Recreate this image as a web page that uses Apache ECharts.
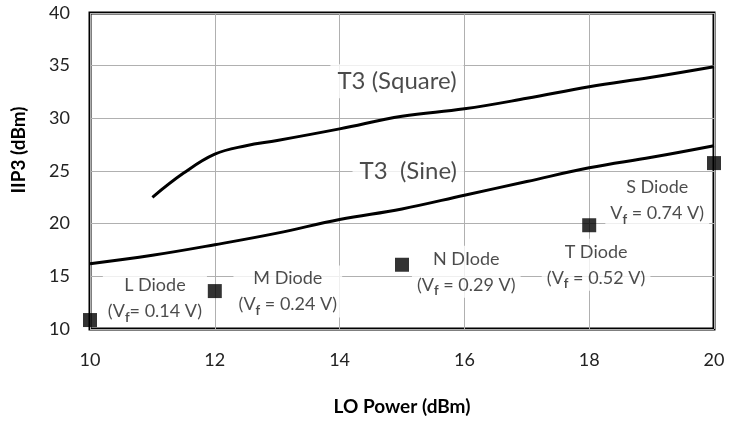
<!DOCTYPE html>
<html>
<head>
<meta charset="utf-8">
<script src="https://cdn.jsdelivr.net/npm/echarts@6/dist/echarts.min.js"></script>
<style>
  html, body { margin: 0; padding: 0; background: #fff; }
  #chart { width: 729px; height: 421px; }
</style>
</head>
<body>
<div id="chart"></div>
<script>
// T3 curves (LO power dBm, IIP3 dBm)
const squareLine = [[11, 22.5], [11.5, 24.8], [12, 26.6], [12.5, 27.4], [13, 27.9], [14, 29.0],
  [15, 30.2], [16, 30.9], [17, 31.9], [18, 33.0], [19, 33.9], [20, 34.9]];
const sineLine = [[10, 16.2], [11, 17.0], [12, 18.0], [13, 19.1], [14, 20.4], [15, 21.4],
  [16, 22.7], [17, 24.0], [18, 25.3], [19, 26.3], [20, 27.4]];
// measured diodes
const diodePoints = [[10, 10.85], [12, 13.6], [15, 16.1], [18, 19.85], [20, 25.75]];
// annotation text, anchored in data units
const curveNotes = [
  { pos: [14.92, 33.53], text: 'T3 (Square)' },
  { pos: [15.10, 25.0], text: 'T3  (Sine)' }
];
const diodeNotes = [
  { pos: [11.04, 12.92], text: 'L Diode\n(V{s|f}= 0.14 V)' },
  { pos: [13.17, 13.57], text: 'M Diode\n(V{s|f} = 0.24 V)' },
  { pos: [16.03, 15.44], text: 'N DIode\n(V{s|f} = 0.29 V)' },
  { pos: [18.11, 16.10], text: 'T Diode\n(V{s|f} = 0.52 V)' },
  { pos: [19.09, 22.19], text: 'S Diode\nV{s|f} = 0.74 V)' }
];

const font = 'Lato, "Noto Sans", sans-serif';
const chart = echarts.init(document.getElementById('chart'));

function noteSeries(notes, size, lh, pad) {
  return {
    type: 'scatter', data: notes.map(n => ({ value: n.pos, label: { formatter: n.text } })),
    symbolSize: 0, silent: true, z: 2,
    label: {
      show: true, position: 'inside', color: '#1e1e1e', fontSize: size, fontFamily: font,
      lineHeight: lh, align: 'center', verticalAlign: 'middle',
      backgroundColor: '#fff', padding: pad,
      rich: {
        s: { fontSize: 13, fontWeight: 'bold', fontFamily: font, color: '#1e1e1e', verticalAlign: 'bottom', lineHeight: lh, padding: [9, 0, 0, 0] }
      }
    }
  };
}

chart.setOption({
  backgroundColor: '#fff',
  animation: false,
  grid: {
    left: 90, right: 15, top: 13, bottom: 88,
    show: true, borderColor: '#000', borderWidth: 3
  },
  xAxis: {
    type: 'value', min: 10, max: 20, interval: 2,
    axisLine: { show: false }, axisTick: { show: false },
    splitLine: { lineStyle: { color: '#b0b0b0', width: 1 } },
    axisLabel: { color: '#222', fontSize: 18, fontFamily: font, margin: 22 },
    name: 'LO Power (dBm)', nameLocation: 'middle', nameGap: 68,
    nameTextStyle: { color: '#000', fontSize: 19, fontWeight: 'bold', fontFamily: font }
  },
  yAxis: {
    type: 'value', min: 10, max: 40, interval: 5,
    axisLine: { show: false }, axisTick: { show: false },
    splitLine: { lineStyle: { color: '#b0b0b0', width: 1 } },
    axisLabel: { color: '#222', fontSize: 18, fontFamily: font, margin: 20 }
  },
  graphic: [{
    type: 'text', x: 19, y: 150, rotation: Math.PI / 2,
    style: {
      text: 'IIP3 (dBm)', fill: '#000', fontSize: 19, fontWeight: 'bold',
      fontFamily: font, align: 'center', verticalAlign: 'middle'
    }
  }],
  series: [
    {
      type: 'line', data: squareLine, smooth: 0.4, showSymbol: false,
      lineStyle: { color: '#000', width: 3 }, z: 3
    },
    {
      type: 'line', data: sineLine, smooth: 0.4, showSymbol: false,
      lineStyle: { color: '#000', width: 3 }, z: 3
    },
    noteSeries(curveNotes, 24, 30, [2, 7]),
    noteSeries(diodeNotes, 18, 26, [0, 5]),
    {
      type: 'scatter', data: diodePoints, symbol: 'rect', symbolSize: 14,
      itemStyle: { color: '#000' }, clip: false, z: 5
    }
  ]
});
</script>
</body>
</html>
